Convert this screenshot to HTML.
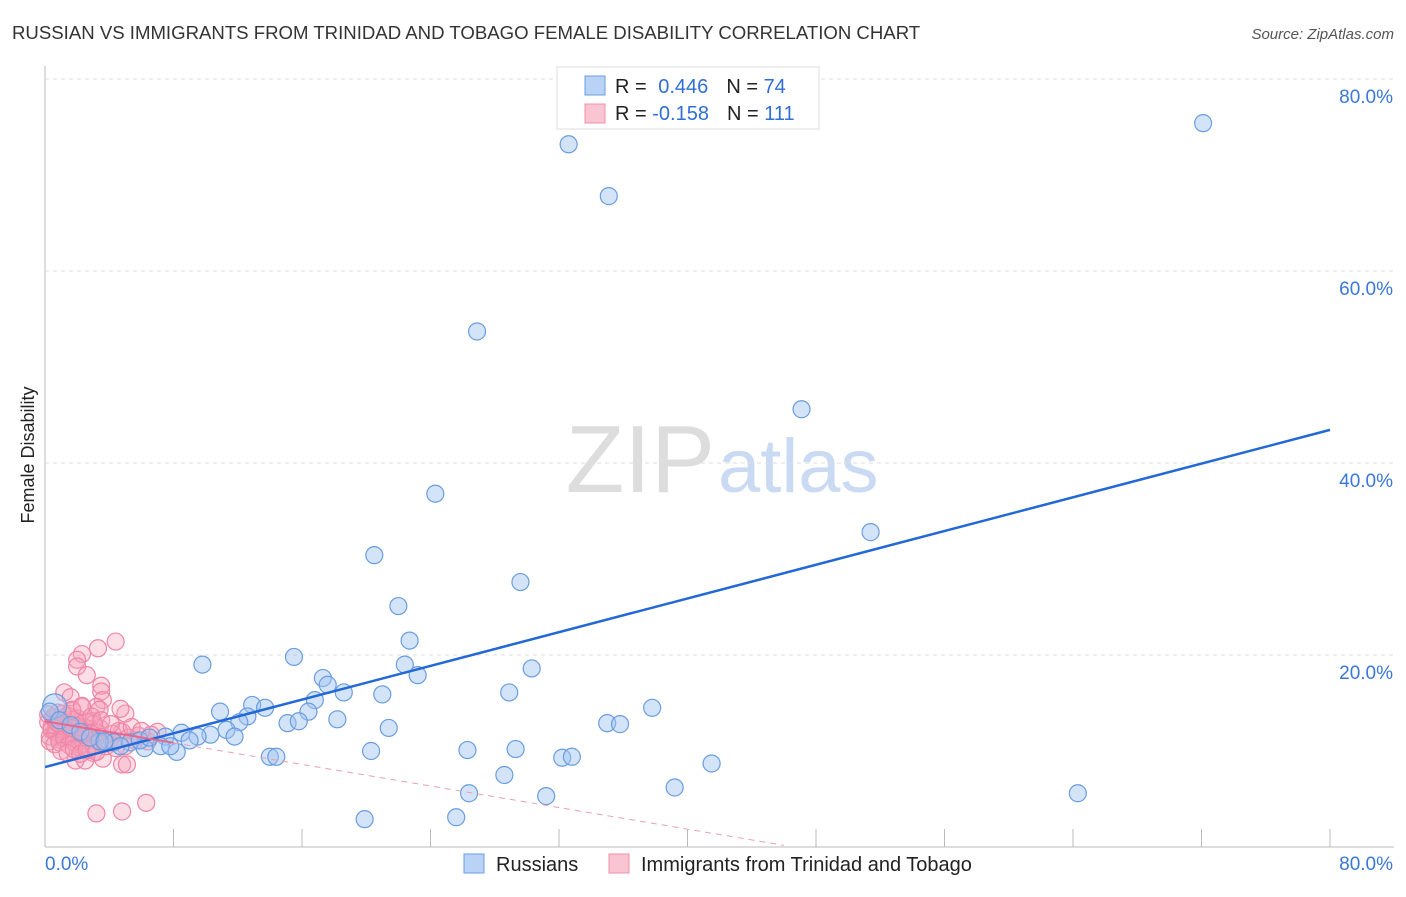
<!DOCTYPE html>
<html><head><meta charset="utf-8"><style>
body{margin:0;background:#fff;font-family:"Liberation Sans",sans-serif;}
svg text{font-family:"Liberation Sans",sans-serif;}
</style></head><body>
<svg id="c" width="1406" height="892">
<text x="12" y="39" font-size="18.6" fill="#333">RUSSIAN VS IMMIGRANTS FROM TRINIDAD AND TOBAGO FEMALE DISABILITY CORRELATION CHART</text>
<text x="1394" y="39" font-size="15" fill="#555" text-anchor="end" font-style="italic">Source: ZipAtlas.com</text>
<text x="34" y="455" font-size="18" fill="#222" text-anchor="middle" transform="rotate(-90 34 455)">Female Disability</text>
<text x="715" y="492" font-size="96" fill="#ddd" text-anchor="end" font-family="Liberation Serif">ZIP</text>
<text x="718" y="492" font-size="76" fill="#c9daf2">atlas</text>
<g id="grid"></g><g id="pts"></g><g id="lines"></g>
<g>
<rect x="557" y="67" width="262" height="62" fill="#fff" stroke="#ddd"/>
<rect x="585" y="76" width="20" height="19" fill="#b9d2f5" stroke="#6a9de0"/>
<rect x="585" y="104" width="20" height="19" fill="#f9c5d3" stroke="#ee8fab"/>
<text x="615" y="93" font-size="20" fill="#222">R = <tspan fill="#2f6fd6" dx="6">0.446</tspan><tspan fill="#222" dx="18">N = </tspan><tspan fill="#2f6fd6">74</tspan></text>
<text x="615" y="120" font-size="20" fill="#222">R = <tspan fill="#2f6fd6">-0.158</tspan><tspan fill="#222" dx="18">N = </tspan><tspan fill="#2f6fd6">111</tspan></text>
</g>
<g>
<rect x="464" y="854" width="20" height="19" fill="#b9d2f5" stroke="#6a9de0"/>
<text x="496" y="871" font-size="20" fill="#222">Russians</text>
<rect x="609" y="854" width="20" height="19" fill="#f9c5d3" stroke="#ee8fab"/>
<text x="641" y="871" font-size="20" fill="#222">Immigrants from Trinidad and Tobago</text>
</g>
</svg>
<script>
const yTicks=[20,40,60,80];
const xTickLabels=["0.0%","80.0%"];
const blueX=[72.1,32.6,35.1,26.9,47.1,24.3,51.4,20.5,29.6,22.0,22.7,9.8,15.5,30.3,22.4,23.2,17.3,17.6,18.6,21.0,28.9,16.8,12.9,13.7,10.9,16.4,12.6,18.2,12.1,15.1,15.8,35.0,35.8,37.8,21.4,11.3,8.5,10.3,11.8,9.5,7.5,9.0,7.2,6.2,8.2,4.3,5.3,3.4,5.9,4.7,20.3,26.3,29.3,14.0,14.4,32.2,32.8,41.5,28.6,39.2,26.4,31.2,64.3,19.9,25.6,0.6,0.3,0.9,1.6,2.2,2.8,3.7,6.5,7.8];
const blueY=[75.4,73.2,67.8,53.7,45.6,36.8,32.8,30.4,27.6,25.1,21.5,19.0,19.8,18.6,19.0,17.9,17.6,16.9,16.1,15.9,16.1,15.3,14.8,14.5,14.1,14.1,13.6,13.3,13.0,12.9,13.1,12.9,12.8,14.5,12.4,12.2,11.9,11.7,11.5,11.5,11.5,11.1,10.5,10.3,9.9,10.9,10.9,11.0,11.1,10.5,10.0,10.1,10.2,9.4,9.4,9.3,9.4,8.7,7.5,6.2,5.6,5.3,5.6,2.9,3.1,14.7,14.1,13.2,12.7,12.0,11.4,11.0,11.4,10.5];
const pinkX=[4.4,3.3,2.3,2.0,2.0,2.6,1.2,3.5,3.5,1.6,3.6,3.2,3.4,5.0,3.0,7.0,4.8,4.2,5.6,5.0,3.0,3.6,4.8,5.1,6.3,3.2,4.8,1.9,2.5,
0.2,0.4,0.5,0.7,0.8,1.0,1.1,1.3,1.4,1.5,1.7,1.8,2.0,2.2,2.4,2.6,2.8,0.3,0.6,0.9,1.2,1.5,1.8,2.1,2.4,2.7,3.0,3.3,0.2,0.5,0.8,1.1,1.4,1.7,2.0,2.3,0.4,0.7,1.0,1.3,1.6,1.9,2.2,2.5,2.8,3.1,3.4,3.8,4.2,4.6,5.2,5.8,6.4,0.3,0.6,0.9,1.2,1.5,1.8,2.1,2.4,2.7,3.0,1.0,1.4,1.8,2.2,2.6,3.2,3.8,4.4,0.5,1.1,1.7,2.3,2.9,3.5,4.1,4.7,5.4,6.0,6.6,0.8,1.6,2.4];
const pinkY=[21.4,20.7,20.1,19.5,18.8,17.9,16.1,16.8,16.2,15.6,15.3,14.6,14.3,13.9,13.1,12.0,12.0,10.9,11.1,10.5,9.8,9.2,8.6,8.6,4.6,3.5,3.7,9.0,9.0,
13.0,12.5,13.4,12.1,13.2,12.8,11.9,13.6,12.4,12.9,11.7,13.3,12.6,12.2,11.8,13.0,12.3,11.5,12.0,11.2,11.8,11.4,12.7,11.0,12.5,11.6,12.8,11.9,13.8,13.5,14.0,13.1,13.7,14.2,13.4,14.6,12.2,11.9,12.6,12.3,12.0,11.6,11.3,11.9,11.5,11.2,12.4,10.9,11.8,12.1,11.4,11.6,11.0,11.0,10.7,10.9,11.3,10.6,10.9,10.4,10.8,10.3,10.6,10.0,9.8,10.2,9.7,10.1,9.9,10.5,10.3,13.5,13.9,14.3,14.7,13.6,13.2,12.8,14.4,12.5,12.1,11.7,12.9,12.4,11.8];
const blueTrend=[8.33,0.439];
const pinkTrend=[13.1,-0.281];
const NS='http://www.w3.org/2000/svg';
const X0=45,X1=1330,Y0=847;
const xs=v=>X0+(X1-X0)*v/80;
const ys=v=>Y0-9.6*v;
function mk(t,a,p){const e=document.createElementNS(NS,t);for(const k in a)e.setAttribute(k,a[k]);p.appendChild(e);return e;}
const grid=document.getElementById('grid');
mk('line',{x1:X0,y1:66,x2:X0,y2:Y0,stroke:'#bbb'},grid);
mk('line',{x1:X0,y1:Y0,x2:X1+64,y2:Y0,stroke:'#bbb'},grid);
for(let i=1;i<=10;i++){const l=mk('line',{x1:xs(i*8),y1:Y0,x2:xs(i*8),y2:Y0-18,stroke:'#bbb'},grid);

}
yTicks.forEach(v=>{const l=mk('line',{x1:X0,y1:ys(v),x2:1394,y2:ys(v),stroke:'#ddd','stroke-dasharray':'4,4'},grid);


const t=mk('text',{x:1393,y:ys(v)+24,'font-size':19,fill:'#3a78d8','text-anchor':'end'},grid);t.textContent=v.toFixed(1)+'%';

});
const tx0=mk('text',{x:45,y:870,'font-size':19,fill:'#3a78d8'},grid);tx0.textContent=xTickLabels[0];


const tx1=mk('text',{x:1393,y:870,'font-size':19,fill:'#3a78d8','text-anchor':'end'},grid);tx1.textContent=xTickLabels[1];


const pts=document.getElementById('pts');
pinkX.forEach((v,i)=>{const c=mk('circle',{cx:xs(v),cy:ys(pinkY[i]),r:8.5,fill:'rgba(246,160,186,0.35)',stroke:'#ee86a6','stroke-width':1.2},pts);

});
blueX.forEach((v,i)=>{const c=mk('circle',{cx:xs(v),cy:ys(blueY[i]),r:i==65?12:8.5,fill:'rgba(160,196,240,0.45)',stroke:'#6a9de0','stroke-width':1.2},pts);

});
const lines=document.getElementById('lines');
const bl=mk('line',{x1:xs(0),y1:ys(blueTrend[0]),x2:xs(80),y2:ys(blueTrend[0]+80*blueTrend[1]),stroke:'#2268d6','stroke-width':2.5},lines);


const pl=mk('line',{x1:xs(0),y1:ys(pinkTrend[0]),x2:xs(8),y2:ys(pinkTrend[0]+8*pinkTrend[1]),stroke:'#e9678d','stroke-width':2},lines);


const pd=mk('line',{x1:xs(8),y1:ys(pinkTrend[0]+8*pinkTrend[1]),x2:xs(46),y2:ys(pinkTrend[0]+46*pinkTrend[1]),stroke:'#e9a0b5','stroke-width':1,'stroke-dasharray':'6,5'},lines);


</script>
</body></html>
